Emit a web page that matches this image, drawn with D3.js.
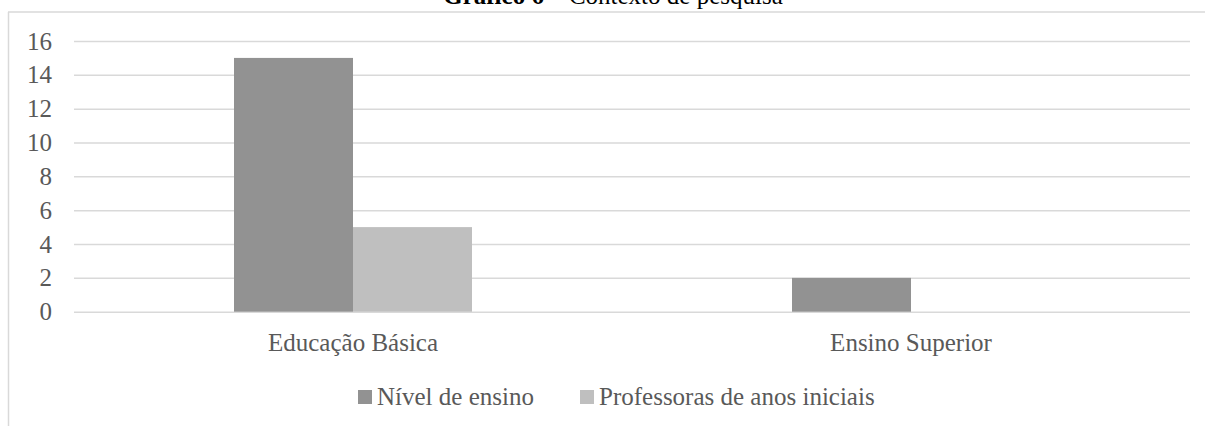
<!DOCTYPE html>
<html>
<head>
<meta charset="utf-8">
<script src="https://cdn.jsdelivr.net/npm/d3@7"></script>
<style>
  html, body { margin: 0; padding: 0; background: #fff; }
  svg { display: block; }
  svg text { font-family: "Liberation Serif", "Times New Roman", serif; }
</style>
</head>
<body>
<div id="chart"></div>
<script>
const categories = ['Educação Básica', 'Ensino Superior'];
const seriesNames = ['Nível de ensino', 'Professoras de anos iniciais'];
const nivelEnsino = [15, 2];
const professoras = [5, 0];
const yTicks = [0, 2, 4, 6, 8, 10, 12, 14, 16];

const colors = ['#929292', '#bfbfbf'];
const seriesValues = [nivelEnsino, professoras];
const serif = '"Liberation Serif", "Times New Roman", serif';

const width = 1205;
const height = 426;

const svg = d3.select('#chart')
  .append('svg')
  .attr('width', width)
  .attr('height', height);

// chart area border (only top and left are visible)
svg.append('line')
  .attr('x1', 8).attr('x2', width)
  .attr('y1', 12).attr('y2', 12)
  .attr('stroke', '#d9d9d9').attr('stroke-width', 1.5);
svg.append('line')
  .attr('x1', 8.5).attr('x2', 8.5)
  .attr('y1', 12).attr('y2', height)
  .attr('stroke', '#d9d9d9').attr('stroke-width', 1.5);

// title, cut off at the top like in the reference
const title = svg.append('text')
  .attr('x', 613)
  .attr('y', 4)
  .attr('text-anchor', 'middle')
  .attr('font-family', serif)
  .attr('font-size', 25)
  .attr('fill', '#000');
title.append('tspan').attr('font-weight', 'bold').text('Gráfico 6');
title.append('tspan').text(' – Contexto de pesquisa');

const x0 = d3.scaleBand()
  .domain(categories)
  .range([74, 1190]);

const groupW = 238;
const x1 = d3.scaleBand()
  .domain(seriesNames)
  .range([(x0.bandwidth() - groupW) / 2, (x0.bandwidth() + groupW) / 2]);

const y = d3.scaleLinear()
  .domain([0, 16])
  .range([311.7, 41]);

// gridlines
svg.append('g')
  .attr('transform', 'translate(74,0)')
  .call(d3.axisLeft(y).tickValues(yTicks).tickSize(-(1190 - 74)).tickFormat(''))
  .call(g => g.select('.domain').remove())
  .call(g => g.selectAll('.tick line').attr('stroke', '#d9d9d9').attr('stroke-width', 1.5));

// y tick labels
svg.append('g')
  .attr('transform', 'translate(52,0)')
  .attr('font-family', serif)
  .call(d3.axisLeft(y).tickValues(yTicks).tickSize(0).tickPadding(0))
  .call(g => g.attr('font-family', serif))
  .call(g => g.select('.domain').remove())
  .call(g => g.selectAll('.tick text')
    .attr('font-size', 25)
    .attr('fill', '#595959'));

// bars
const groups = svg.append('g')
  .selectAll('g')
  .data(categories)
  .join('g')
  .attr('transform', d => `translate(${x0(d)},0)`);

groups.selectAll('rect')
  .data((d, i) => seriesNames.map((s, j) => ({ s, j, v: seriesValues[j][i] })))
  .join('rect')
  .attr('x', d => x1(d.s))
  .attr('width', x1.bandwidth())
  .attr('y', d => y(d.v))
  .attr('height', d => y(0) - y(d.v))
  .attr('fill', d => colors[d.j]);

// category labels
svg.append('g')
  .attr('transform', 'translate(0,311.7)')
  .call(d3.axisBottom(x0).tickSize(0).tickPadding(0))
  .call(g => g.attr('font-family', serif))
  .call(g => g.select('.domain').remove())
  .call(g => g.selectAll('.tick text')
    .attr('dy', null)
    .attr('y', 39)
    .attr('font-size', 25)
    .attr('fill', '#595959'));

// legend
const legendX = [358, 580];
const legend = svg.append('g')
  .selectAll('g')
  .data(seriesNames)
  .join('g')
  .attr('transform', (d, i) => `translate(${legendX[i]},390)`);

legend.append('rect')
  .attr('width', 14).attr('height', 14)
  .attr('fill', (d, i) => colors[i]);

legend.append('text')
  .attr('x', 19)
  .attr('y', 15)
  .attr('font-family', serif)
  .attr('font-size', 25)
  .attr('fill', '#595959')
  .text(d => d);
</script>
</body>
</html>
